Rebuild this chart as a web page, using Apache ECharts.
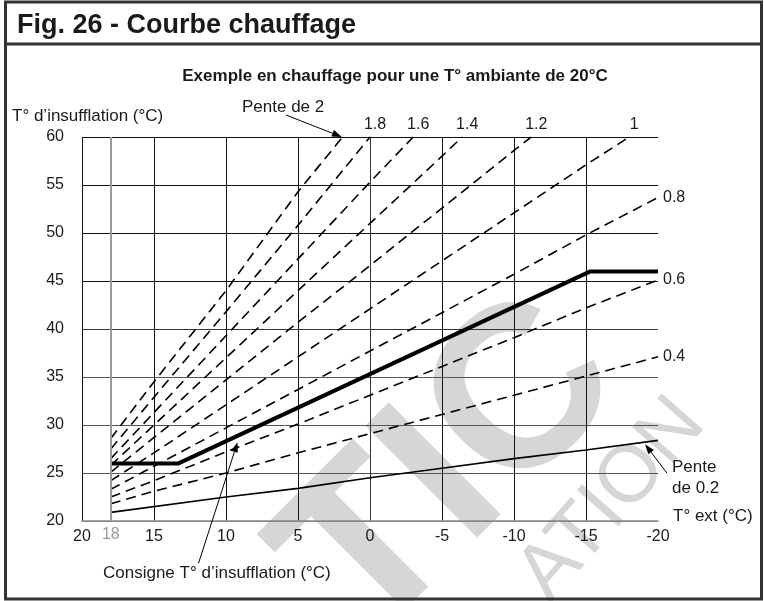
<!DOCTYPE html>
<html>
<head>
<meta charset="utf-8">
<script src="https://cdn.jsdelivr.net/npm/echarts@6/dist/echarts.min.js"></script>
<style>
  html, body { margin: 0; padding: 0; background: #fff; }
  #main { width: 764px; height: 601px; }
</style>
</head>
<body>
<div id="main"></div>
<script>
// heating curves: [T ext, T supply]
const pente2  = [[18, 28.6], [15, 34.5], [10, 44.0], [5, 54.3], [1.9, 60]];
const pente18 = [[18, 27.5], [15, 32.9], [10, 41.8], [5, 50.8], [0, 60]];
const pente16 = [[18, 26.5], [15, 31.3], [10, 39.3], [5, 47.3], [0, 55.3], [-3, 60]];
const pente14 = [[18, 25.8], [15, 30.0], [10, 37.0], [5, 44.0], [0, 51.0], [-5, 58.0], [-6.4, 60]];
const pente12 = [[18, 25.1], [15, 28.7], [10, 34.7], [5, 40.7], [0, 46.6], [-5, 52.6], [-10, 58.6], [-11.2, 60]];
const pente1  = [[18, 24.2], [15, 27.1], [10, 32.1], [5, 37.1], [0, 42.1], [-5, 47.1], [-10, 52.1], [-15, 57.1], [-18, 60]];
const pente08 = [[18, 23.3], [15, 25.7], [10, 29.7], [5, 33.7], [0, 37.7], [-5, 41.7], [-10, 45.7], [-15, 49.8], [-20, 53.7]];
const pente06 = [[18, 22.5], [15, 24.2], [10, 27.2], [5, 30.1], [0, 33.1], [-5, 36.1], [-10, 39.1], [-15, 42.2], [-20, 45.1]];
const pente04 = [[18, 21.8], [15, 23.1], [10, 25.0], [5, 27.1], [0, 29.1], [-5, 31.1], [-10, 33.1], [-15, 35.1], [-20, 37.1]];
const pente02 = [[18, 20.9], [10, 22.5], [5, 23.4], [0, 24.5], [-5, 25.5], [-10, 26.5], [-15, 27.4], [-20, 28.4]];
const consigne = [[18, 26], [13.3, 26], [-15.3, 46], [-20, 46]];

const topLabels = ['1.8', '1.6', '1.4', '1.2', '1'];
const rightLabels = ['0.8', '0.6', '0.4'];
const minTempLine = 18;

const FONT = '"Liberation Sans", Arial, sans-serif';
const INK = '#1a1a1a';

var chartDom = document.getElementById('main');
var myChart = echarts.init(chartDom);

function dashed(name, data) {
  return {
    name: name, type: 'line', data: data, symbol: 'none', silent: true, z: 3,
    lineStyle: { color: '#000', width: 1.6, type: [10, 6] }
  };
}

var series = [
  dashed('2', pente2), dashed('1.8', pente18), dashed('1.6', pente16),
  dashed('1.4', pente14), dashed('1.2', pente12), dashed('1', pente1),
  dashed('0.8', pente08), dashed('0.6', pente06), dashed('0.4', pente04),
  {
    name: '0.2', type: 'line', data: pente02, symbol: 'none', silent: true, z: 3,
    lineStyle: { color: '#000', width: 1.6 },
    markLine: {
      silent: true, symbol: ['none', 'none'], animation: false,
      lineStyle: { color: '#9a9a9a', width: 2, type: 'solid' },
      label: { show: true, position: 'start', formatter: String(minTempLine), color: '#999', fontSize: 16, fontFamily: FONT, distance: 6 },
      data: [{ xAxis: minTempLine }]
    }
  },
  {
    name: 'Consigne', type: 'line', data: consigne, symbol: 'none', silent: true, z: 4,
    lineStyle: { color: '#000', width: 4 }
  }
];

var option = {
  animation: false,
  grid: { left: 82, right: 106, top: 137, bottom: 80 },
  xAxis: {
    type: 'value', inverse: true, min: -20, max: 20, interval: 5,
    axisLine: { show: true, lineStyle: { color: '#888', width: 1.5 } },
    axisTick: { show: false },
    axisLabel: { color: INK, fontSize: 16, fontFamily: FONT, margin: 8 },
    splitLine: { show: true, showMinLine: false, lineStyle: { color: '#111', width: 1 } }
  },
  yAxis: {
    type: 'value', min: 20, max: 60, interval: 5,
    axisLine: { show: true, lineStyle: { color: '#333', width: 1 } },
    axisTick: { show: false },
    axisLabel: { color: INK, fontSize: 16, fontFamily: FONT, margin: 18 },
    splitLine: {
      show: true,
      lineStyle: { color: ['#888', '#555', '#555', '#555', '#333', '#111', '#111', '#111', '#111'], width: 1 }
    }
  },
  series: series
};

myChart.setOption(option);

// annotations placed from data points
function px(p) { return myChart.convertToPixel({ gridIndex: 0 }, p); }

function text(str, x, y, opts) {
  opts = opts || {};
  return {
    type: 'text', z: 10, x: x, y: y, silent: true,
    style: {
      text: str, fill: opts.fill || INK,
      font: (opts.weight || 'normal') + ' ' + (opts.size || 17) + 'px ' + FONT,
      align: opts.align || 'left', textAlign: opts.align || 'left',
      verticalAlign: 'middle', textVerticalAlign: 'middle'
    }
  };
}

function arrow(from, to) {
  var a = Math.atan2(to[1] - from[1], to[0] - from[0]);
  var L = 10, W = 3.5;
  var bx = to[0] - L * Math.cos(a), by = to[1] - L * Math.sin(a);
  return [
    { type: 'line', z: 10, silent: true, shape: { x1: from[0], y1: from[1], x2: bx, y2: by }, style: { stroke: '#000', lineWidth: 1 } },
    { type: 'polygon', z: 10, silent: true,
      shape: { points: [to, [bx - W * Math.sin(a), by + W * Math.cos(a)], [bx + W * Math.sin(a), by - W * Math.cos(a)]] },
      style: { fill: '#000' } }
  ];
}

var g = [];
// watermark
g.push({ type: 'text', z: -1, silent: true, x: 453, y: 472, rotation: Math.PI / 4,
  style: { text: 'TIC', font: 'bold 230px ' + FONT, fill: '#d6d6d6', align: 'center', textAlign: 'center', verticalAlign: 'middle', textVerticalAlign: 'middle' } });
g.push({ type: 'text', z: -1, silent: true, x: 612, y: 500, rotation: 0.85,
  style: { text: 'ATION', font: '80px ' + FONT, fill: '#d6d6d6', align: 'center', textAlign: 'center', verticalAlign: 'middle', textVerticalAlign: 'middle' } });

// frame and title
g.push({ type: 'rect', z: 10, silent: true, shape: { x: 5.5, y: 2, width: 756, height: 597 }, style: { fill: 'none', stroke: '#333', lineWidth: 3 } });
g.push({ type: 'line', z: 10, silent: true, shape: { x1: 5, y1: 44, x2: 761, y2: 44 }, style: { stroke: '#333', lineWidth: 3 } });
g.push(text('Fig. 26 - Courbe chauffage', 17, 26, { weight: 'bold', size: 27 }));
g.push(text('Exemple en chauffage pour une T° ambiante de 20°C', 395, 76, { weight: 'bold', size: 17, align: 'center' }));
g.push(text('T° d’insufflation (°C)', 12, 116));
g.push(text('T° ext (°C)', 673, 516));

// slope labels at curve ends
var curves = { '1.8': pente18, '1.6': pente16, '1.4': pente14, '1.2': pente12, '1': pente1, '0.8': pente08, '0.6': pente06, '0.4': pente04 };
topLabels.forEach(function (name) {
  var d = curves[name];
  var p = px(d[d.length - 1]);
  g.push(text(name, p[0] + 5, p[1] - 12, { size: 16, align: 'center' }));
});
rightLabels.forEach(function (name) {
  var d = curves[name];
  var p = px(d[d.length - 1]);
  g.push(text(name, p[0] + 5, p[1], { size: 16 }));
});

// callouts
var tip2 = px([1.95, 60]);
g.push(text('Pente de 2', 242, 107));
g = g.concat(arrow([tip2[0] - 56, tip2[1] - 22], tip2));

var tipC = px([9.2, 28.2]);
g.push(text('Consigne T° d’insufflation (°C)', 103, 573));
g = g.concat(arrow([tipC[0] - 39, tipC[1] + 121], tipC));

var tip02 = px([-19.1, 28.0]);
g.push(text('Pente', 672, 467));
g.push(text('de 0.2', 672, 488));
g = g.concat(arrow([tip02[0] + 22, tip02[1] + 29], tip02));

myChart.setOption({ graphic: g });
</script>
</body>
</html>
